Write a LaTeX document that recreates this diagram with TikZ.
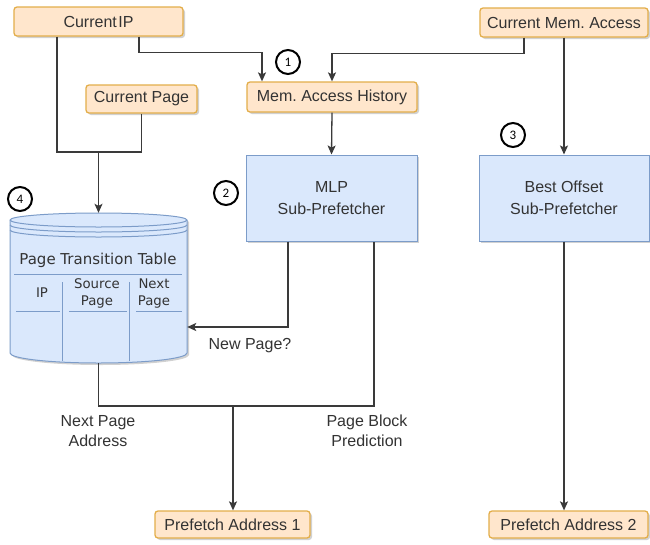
\documentclass[tikz,border=0pt]{standalone}
\usepackage{fontspec}
\setmainfont{Liberation Sans}
\newfontfamily\dejavu{DejaVu Sans}
\newfontfamily\numfont{Carlito}
\usetikzlibrary{arrows.meta,shadows,calc}
\definecolor{obfill}{HTML}{FFE6CC}
\definecolor{obdraw}{HTML}{E3AE4A}
\definecolor{bbfill}{HTML}{DAE8FC}
\definecolor{bbdraw}{HTML}{7C9CC9}
\definecolor{txt}{HTML}{333333}
\definecolor{ln}{HTML}{3A3A3A}
\frenchspacing
\tikzset{
  shad/.style={drop shadow={shadow xshift=2pt, shadow yshift=-2pt, opacity=0.18, fill=black}},
  obox/.style={draw=obdraw, fill=obfill, rounded corners=3pt, line width=1.3pt, text=txt,
    font=\fontsize{16}{19}\selectfont, inner sep=0pt, shad},
  bbox/.style={draw=bbdraw, fill=bbfill, line width=1pt, text=txt, align=center,
    font=\fontsize{16}{22}\selectfont, inner sep=0pt, shad},
  conn/.style={draw=ln, line width=1.3pt},
  arr/.style={conn, -{Stealth[length=9pt,width=8pt,inset=2pt]}},
  numc/.style={circle, draw=black, line width=2pt, minimum size=24pt, inner sep=0pt,
    font=\numfont\fontsize{13}{14}\selectfont},
  lbl/.style={text=txt, align=center, font=\fontsize{16}{20}\selectfont, inner sep=0pt},
  tbl/.style={text=txt, align=center, font=\dejavu\fontsize{13.3}{16.5}\selectfont, inner sep=0pt},
  tline/.style={draw=bbdraw, line width=1pt}
}
\begin{document}
\begin{tikzpicture}[x=1pt,y=-1pt]
\fill[white] (0,0) rectangle (650,544);
\useasboundingbox (0,0) rectangle (650,544);

% top boxes
\node[obox, minimum width=169pt, minimum height=29pt] (cip) at (98.5,21.5) {Current\hspace{1.5pt}IP};
\node[obox, minimum width=111pt, minimum height=28pt] (cpage) at (141.5,99) {Current Page};
\node[obox, minimum width=170pt, minimum height=30pt] (mah) at (332,97) {Mem. Access History};
\node[obox, minimum width=168pt, minimum height=29pt] (cma) at (564,22.5) {Current Mem. Access};

% sub-prefetchers
\node[bbox, minimum width=171pt, minimum height=86pt] (mlp) at (331.5,198) {MLP\\Sub-Prefetcher};
\node[bbox, minimum width=170pt, minimum height=86pt] (bo) at (564,198) {Best Offset\\Sub-Prefetcher};

% outputs
\node[obox, minimum width=155pt, minimum height=27pt] (pa1) at (232.5,524.5) {Prefetch Address 1};
\node[obox, minimum width=159pt, minimum height=27pt] (pa2) at (568.5,524.5) {Prefetch Address 2};

% page transition table (datastore)
\node[minimum width=177pt, minimum height=150pt, inner sep=0pt] (ptt) at (98.5,288) {};
\path[draw=bbdraw, fill=bbfill, line width=1pt, shad]
  (10,220) -- (10,353) arc[start angle=180, end angle=360, x radius=88.5pt, y radius=10pt]
  -- (187,220) arc[start angle=0, end angle=180, x radius=88.5pt, y radius=7pt] -- cycle;
\draw[tline] (10,220) arc[start angle=180, end angle=360, x radius=88.5pt, y radius=7pt];
\draw[tline] (10,225) arc[start angle=180, end angle=360, x radius=88.5pt, y radius=7pt];
\draw[tline] (10,230) arc[start angle=180, end angle=360, x radius=88.5pt, y radius=7pt];
\node[text=txt, inner sep=0pt, font=\dejavu\fontsize{15}{17}\selectfont] (ptttitle) at (98,260) {Page Transition Table};
\draw[tline] (14,274) -- (182,274);
\draw[tline] (62,282) -- (62,361);
\draw[tline] (129,282) -- (129,361);
\draw[tline] (16,311) -- (60,311);
\draw[tline] (69,311) -- (127,311);
\draw[tline] (136,311) -- (182,311);
\node[tbl] (cip1) at (42,293) {IP};
\node[tbl] (csrc) at (97,293.5) {Source\\Page};
\node[tbl] (cnext) at (154,293.5) {Next\\Page};

% numbered circles
\node[numc] (n1) at (288,62) {1};
\node[numc] (n2) at (226,193) {2};
\node[numc] (n3) at (513,135) {3};
\node[numc] (n4) at (20,199) {4};

% junctions
\coordinate (j1) at (98.5,152);
\coordinate (j2) at (233,406);

% connectors
\draw[conn] ([xshift=-41.5pt]cip.south) |- (j1);
\draw[conn] (cpage.south) |- (j1);
\draw[arr] (j1) -- (j1 |- ptt.north);
\draw[arr] ([xshift=40.5pt]cip.south) -- ++(0,16) -| ([xshift=-70pt]mah.north);
\draw[arr] ([xshift=-40pt]cma.south) -- ++(0,16) -| (mah.north);
\draw[arr] (cma.south) -- (bo.north);
\draw[arr] (mah.south) -- (mlp.north);
\draw[arr] ([xshift=-43.5pt]mlp.south) |- ([yshift=-39pt]ptt.east);
\draw[conn] (ptt.south) |- (j2) -| ([xshift=42.5pt]mlp.south);
\draw[arr] (j2) -- (j2 |- pa1.north);
\draw[arr] (bo.south) -- (bo.south |- pa2.north);

% labels
\node[lbl] (lnew) at (250,346) {New Page?};
\node[lbl] (lnpa) at (98,431) {Next Page\\Address};
\node[lbl] (lpbp) at (367,431) {Page Block\\Prediction};
\end{tikzpicture}
\end{document}
